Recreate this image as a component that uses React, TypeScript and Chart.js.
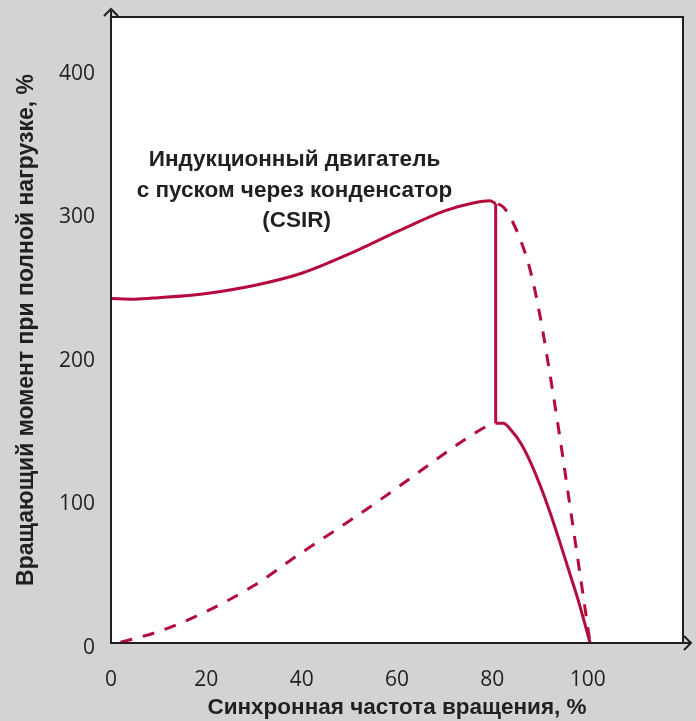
import React, { useEffect, useRef } from 'react';
import { Chart, registerables } from 'chart.js';

Chart.register(...registerables);

// ---- data (speed %, torque %) ----
const upperSolidX = [0, 5, 10, 20, 30, 40, 50, 60, 70, 76, 79.5, 80.7];
const upperSolidY = [240, 239.5, 240.5, 243.5, 249, 257.5, 271, 286.5, 301, 306.5, 308, 306];

const switchX = [80.7, 80.7];
const switchY = [306, 153];

const lowerSolidX = [80.7, 82.3, 84, 86, 88, 90, 92, 94, 96, 98, 100.5];
const lowerSolidY = [153, 153, 148, 139, 126, 110, 92, 72, 51, 30, 0];

const upperDashedX = [81.2, 82.5, 84, 86, 88, 90, 92, 94, 96, 98, 99.5, 100.5];
const upperDashedY = [306, 303, 295, 280, 259, 228, 189, 147, 102, 57, 23, 0];

const lowerDashedX = [2, 10, 20, 30, 40, 50, 60, 70, 76, 79.5, 80.7];
const lowerDashedY = [0.5, 8, 22, 40, 63, 85, 108, 132, 145.5, 152, 153];

const xTicks = [0, 20, 40, 60, 80, 100];
const yTicks = [0, 100, 200, 300, 400];
const xMax = 120;
const yMax = 436;

const xTitle = 'Синхронная частота вращения, %';
const yTitle = 'Вращающий момент при полной нагрузке, %';
const noteLines = ['Индукционный двигатель', 'с пуском через конденсатор', '(CSIR)'];
const noteAnchor = { x: 38.5, y: 336.5 };

const RED = '#b40a3c';
const INK = '#231f20';
const BG = '#d2d3d5';
const BOLD = '"Liberation Sans", Arial, Helvetica, sans-serif';
const REG = '"Open Sans", "Liberation Sans", sans-serif';

function pts(xs: number[], ys: number[]) {
  return xs.map((x, i) => ({ x, y: ys[i] }));
}

export default function App() {
  const ref = useRef<HTMLCanvasElement>(null);

  useEffect(() => {
    const canvas = ref.current;
    if (!canvas) return;

    const framePlugin = {
      id: 'frame',
      beforeDraw(chart: any) {
        const { ctx, chartArea: a, width, height } = chart;
        ctx.save();
        ctx.fillStyle = BG;
        ctx.fillRect(0, 0, width, height);
        ctx.fillStyle = '#ffffff';
        ctx.fillRect(a.left, a.top, a.right - a.left, a.bottom - a.top);
        ctx.restore();
      },
      afterDatasetsDraw(chart: any) {
        const { ctx, chartArea: a, scales } = chart;
        ctx.save();
        ctx.strokeStyle = INK;
        ctx.lineWidth = 2;
        ctx.lineCap = 'butt';
        ctx.beginPath();
        ctx.moveTo(a.left, a.top);
        ctx.lineTo(a.right, a.top);
        ctx.lineTo(a.right, a.bottom);
        ctx.stroke();
        ctx.beginPath();
        ctx.moveTo(a.left, a.bottom);
        ctx.lineTo(a.left, a.top - 8);
        ctx.stroke();
        ctx.beginPath();
        ctx.moveTo(a.left - 7, a.top - 1);
        ctx.lineTo(a.left, a.top - 8);
        ctx.lineTo(a.left + 7, a.top - 1);
        ctx.stroke();
        ctx.beginPath();
        ctx.moveTo(a.left - 1, a.bottom);
        ctx.lineTo(a.right + 8, a.bottom);
        ctx.stroke();
        ctx.beginPath();
        ctx.moveTo(a.right + 1, a.bottom - 7);
        ctx.lineTo(a.right + 8, a.bottom);
        ctx.lineTo(a.right + 1, a.bottom + 7);
        ctx.stroke();

        const cx = scales.x.getPixelForValue(noteAnchor.x);
        const cy = scales.y.getPixelForValue(noteAnchor.y);
        ctx.fillStyle = INK;
        ctx.font = `bold 22.5px ${BOLD}`;
        ctx.textAlign = 'center';
        ctx.textBaseline = 'middle';
        noteLines.forEach((t, i) => {
          ctx.fillText(t, cx + (i === 2 ? 2 : 0), cy + i * 30.5);
        });
        ctx.restore();
      },
    };

    const lineDs = (data: any[], dashed: boolean) => ({
      data,
      borderColor: RED,
      backgroundColor: RED,
      borderWidth: 3,
      borderDash: dashed ? [12, 11] : [],
      pointRadius: 0,
      cubicInterpolationMode: 'monotone' as const,
      fill: false,
      borderCapStyle: 'butt' as const,
    });

    const chart = new Chart(canvas, {
      type: 'line',
      data: {
        datasets: [
          lineDs(pts(upperSolidX, upperSolidY), false),
          lineDs(pts(switchX, switchY), false),
          lineDs(pts(lowerSolidX, lowerSolidY), false),
          lineDs(pts(upperDashedX, upperDashedY), true),
          lineDs(pts(lowerDashedX, lowerDashedY), true),
        ],
      },
      options: {
        animation: false,
        responsive: false,
        devicePixelRatio: 1,
        layout: { padding: { top: 17, right: 13, left: 0, bottom: 0 } },
        plugins: { legend: { display: false }, tooltip: { enabled: false } },
        scales: {
          x: {
            type: 'linear',
            min: 0,
            max: xMax,
            grid: { display: false, drawTicks: false, tickLength: 0 },
            border: { display: false },
            afterBuildTicks: (s: any) => {
              s.ticks = xTicks.map((v) => ({ value: v }));
            },
            afterFit: (s: any) => {
              s.height = 78;
              s.paddingLeft = 0;
              s.paddingRight = 0;
              s.paddingTop = 0;
              s.paddingBottom = 0;
            },
            ticks: {
              font: { family: REG, size: 21 },
              color: INK,
              padding: 24,
              maxRotation: 0,
              autoSkip: false,
            },
            title: {
              display: true,
              text: xTitle,
              color: INK,
              font: { family: BOLD, size: 22.5, weight: 'bold' },
              padding: { top: 0, bottom: 0 },
            },
          },
          y: {
            type: 'linear',
            min: 0,
            max: yMax,
            grid: { display: false, drawTicks: false, tickLength: 0 },
            border: { display: false },
            afterBuildTicks: (s: any) => {
              s.ticks = yTicks.map((v) => ({ value: v }));
            },
            afterFit: (s: any) => {
              s.width = 111;
              s.paddingLeft = 0;
              s.paddingRight = 0;
              s.paddingTop = 0;
              s.paddingBottom = 0;
            },
            ticks: {
              font: { family: REG, size: 21 },
              color: INK,
              padding: 16,
              labelOffset: 5,
              autoSkip: false,
            },
            title: {
              display: true,
              text: yTitle,
              color: INK,
              font: { family: BOLD, size: 23, weight: 'bold' },
              padding: { top: 13, bottom: 0 },
            },
          },
        },
      },
      plugins: [framePlugin],
    });

    return () => chart.destroy();
  }, []);

  return (
    <div style={{ position: 'fixed', left: 0, top: 0, width: 696, height: 721 }}>
      <canvas ref={ref} width={696} height={721} style={{ display: 'block', width: 696, height: 721 }} />
    </div>
  );
}
